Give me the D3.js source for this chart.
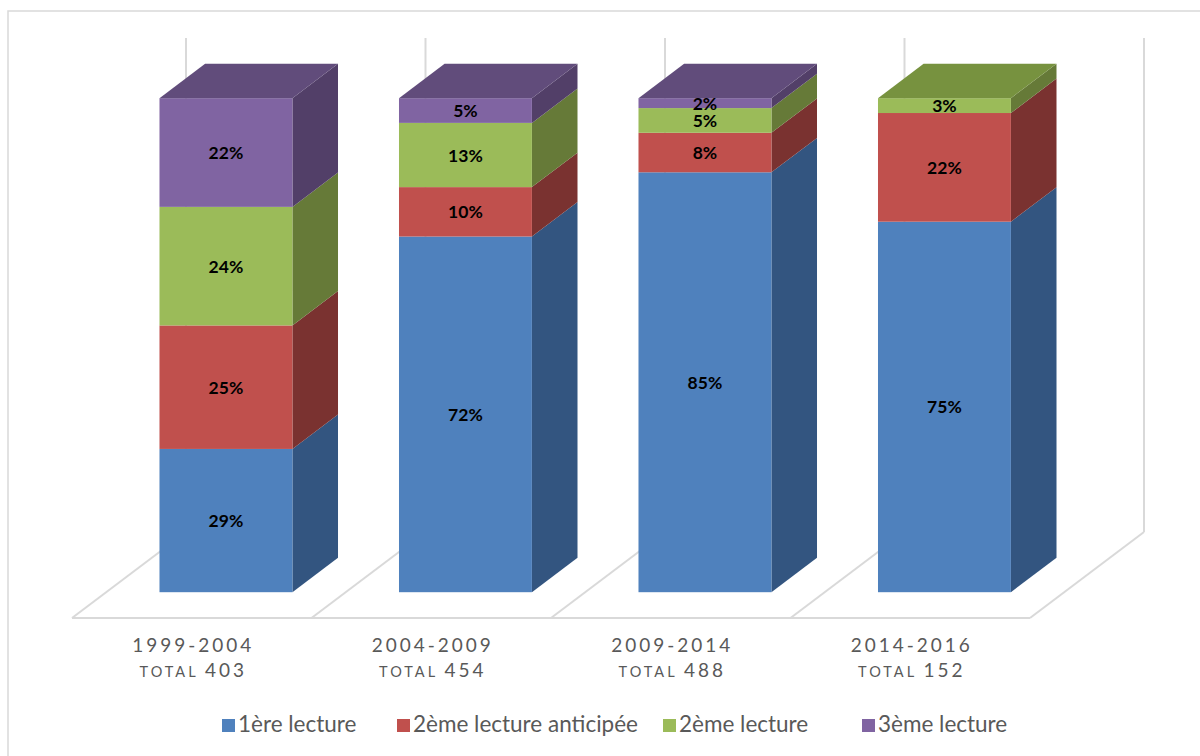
<!DOCTYPE html>
<html>
<head>
<meta charset="utf-8">
<script src="https://cdn.jsdelivr.net/npm/d3@7"></script>
<style>
  html, body { margin: 0; padding: 0; background: #ffffff; }
  svg { display: block; }
</style>
</head>
<body>
<div id="chart"></div>
<script>
// Legislative periods and number of texts for each
const periods = ["1999-2004", "2004-2009", "2009-2014", "2014-2016"];
const totals = [403, 454, 488, 152];

// Share of texts (in %) by reading stage
const series = ["1ère lecture", "2ème lecture anticipée", "2ème lecture", "3ème lecture"];
const premiereLecture = [29, 72, 85, 75];
const deuxiemeAnticipee = [25, 10, 8, 22];
const deuxiemeLecture = [24, 13, 5, 3];
const troisiemeLecture = [22, 5, 2, 0];

const frontColors = ["#4F81BD", "#C0504D", "#9BBB59", "#8064A2"];
const sideColors  = ["#335580", "#7A3230", "#667A38", "#523F68"];
const topColors   = ["#3F6799", "#99403E", "#77923F", "#614C7B"];

const W = 1200, H = 756;
const svg = d3.select("#chart").append("svg").attr("width", W).attr("height", H);

// chart border
svg.append("rect")
  .attr("x", 8).attr("y", 11).attr("width", 1200).attr("height", 760)
  .attr("fill", "none").attr("stroke", "#D9D9D9").attr("stroke-width", 1.5);

// Oblique projection of the depth axis
const floorFront = 618;
const depthX = 114, depthY = 86;          // full floor depth
const barDepthStart = 0.30, barDepthSize = 0.40;

const rows = periods.map((p, i) => ({
  period: p,
  total: totals[i],
  [series[0]]: premiereLecture[i],
  [series[1]]: deuxiemeAnticipee[i],
  [series[2]]: deuxiemeLecture[i],
  [series[3]]: troisiemeLecture[i]
}));
const stacked = d3.stack().keys(series)(rows);

// category bands along the front edge of the floor
const x = d3.scaleBand().domain(periods).range([72, 1030]).padding(0);
// bar bands on the plane where the bars' front faces sit
const offX = depthX * barDepthStart, offY = depthY * barDepthStart;
const xBar = d3.scaleBand().domain(periods)
  .range([72 + offX, 1030 + offX]).paddingInner(0.445).paddingOuter(0.2225);

const y = d3.scaleLinear().domain([0, 100]).range([floorFront - offY, floorFront - offY - 494]);
const yWall = d3.scaleLinear().domain([0, 100]).range([floorFront - depthY, floorFront - depthY - 494]);

const grid = "#D9D9D9";
const gAxes = svg.append("g").attr("fill", "none").attr("stroke", grid).attr("stroke-width", 2);

// back wall vertical gridlines at each category boundary
const bounds = periods.map(p => x(p)).concat([x(periods[periods.length - 1]) + x.bandwidth()]);
gAxes.selectAll("line.wall").data(bounds).join("line")
  .attr("x1", d => d + depthX).attr("x2", d => d + depthX)
  .attr("y1", yWall(0)).attr("y2", yWall(100));

// floor: front edge and depth lines
gAxes.append("line")
  .attr("x1", bounds[0]).attr("x2", bounds[bounds.length - 1])
  .attr("y1", floorFront).attr("y2", floorFront);
gAxes.selectAll("line.floor").data(bounds).join("line")
  .attr("x1", d => d).attr("y1", floorFront)
  .attr("x2", d => d + depthX).attr("y2", floorFront - depthY);

// bars
const bdx = depthX * barDepthSize, bdy = depthY * barDepthSize;
const gBars = svg.append("g");
const poly = pts => "M" + pts.map(p => p.join(",")).join("L") + "Z";

periods.forEach((p, i) => {
  const x0 = xBar(p), x1 = x0 + xBar.bandwidth();
  const segs = stacked.map((s, k) => ({ k, lo: s[i][0], hi: s[i][1] })).filter(d => d.hi > d.lo);
  const g = gBars.append("g");
  segs.forEach(d => {
    const yt = y(d.hi), yb = y(d.lo);
    g.append("path").attr("fill", sideColors[d.k])
      .attr("d", poly([[x1, yt], [x1 + bdx, yt - bdy], [x1 + bdx, yb - bdy], [x1, yb]]));
    g.append("rect").attr("fill", frontColors[d.k])
      .attr("x", x0).attr("y", yt).attr("width", x1 - x0).attr("height", yb - yt);
  });
  const top = segs[segs.length - 1];
  const yt = y(top.hi);
  g.append("path").attr("fill", topColors[top.k])
    .attr("d", poly([[x0, yt], [x0 + bdx, yt - bdy], [x1 + bdx, yt - bdy], [x1, yt]]));
  // value labels
  segs.forEach(d => {
    g.append("text")
      .attr("x", (x0 + x1) / 2)
      .attr("y", (y(d.hi) + y(d.lo)) / 2)
      .attr("text-anchor", "middle").attr("dominant-baseline", "central")
      .attr("font-family", "Lato, 'Open Sans', sans-serif")
      .attr("font-weight", "bold").attr("font-size", 17.5).attr("fill", "#000")
      .text(d.hi - d.lo + "%");
  });
});

// category labels
const gLab = svg.append("g").attr("font-family", "Lato, 'Open Sans', sans-serif").attr("fill", "#595959");
periods.forEach((p, i) => {
  const cx = x(p) + x.bandwidth() / 2;
  gLab.append("text").attr("x", cx + 1.5).attr("y", 652)
    .attr("text-anchor", "middle").attr("font-size", 19).attr("letter-spacing", 3)
    .text(p);
  const t = gLab.append("text").attr("x", cx + 1.5).attr("y", 677)
    .attr("text-anchor", "middle").attr("letter-spacing", 3);
  t.append("tspan").attr("font-size", 14.5).text("TOTAL ");
  t.append("tspan").attr("font-size", 19).text(totals[i]);
});

// legend
const legendX = [222, 397, 663, 862];
const gLeg = svg.append("g").attr("font-family", "Lato, 'Open Sans', sans-serif");
series.forEach((s, k) => {
  gLeg.append("rect").attr("x", legendX[k]).attr("y", 719).attr("width", 13).attr("height", 13)
    .attr("fill", frontColors[k]);
  gLeg.append("text").attr("x", legendX[k] + 16).attr("y", 731.5)
    .attr("font-size", 22.5).attr("fill", "#595959").text(s);
});
</script>
</body>
</html>
